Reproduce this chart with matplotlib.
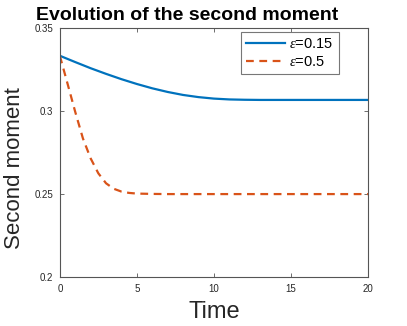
import numpy as np
import matplotlib
matplotlib.use("Agg")
import matplotlib.pyplot as plt

plt.rcParams['font.family'] = ['Liberation Sans', 'DejaVu Sans']
plt.rcParams['mathtext.fontset'] = 'custom'
plt.rcParams['mathtext.it'] = 'Liberation Serif:italic'

# data
t_blue = [0, 1, 2, 3, 4, 5, 6, 7, 8, 9, 10, 11, 12, 13, 14, 15, 16, 17, 18, 19, 20]
m_blue = [0.3333, 0.3295, 0.3258, 0.3224, 0.3192, 0.3163, 0.3137, 0.3115, 0.3097,
          0.3084, 0.3075, 0.3070, 0.3068, 0.3067, 0.3067, 0.3067, 0.3067, 0.3067,
          0.3067, 0.3067, 0.3067]
t_orange = [0, 0.5, 1, 1.5, 2, 2.5, 3, 3.5, 4, 4.5, 5, 6, 7, 8, 10, 12, 14, 16, 18, 20]
m_orange = [0.3333, 0.3165, 0.2995, 0.2835, 0.2715, 0.2625, 0.2565, 0.2532, 0.2515,
            0.2507, 0.2503, 0.2501, 0.2500, 0.2500, 0.2500, 0.2500, 0.2500, 0.2500,
            0.2500, 0.2500]
labels = [r'$\epsilon$=0.15', r'$\epsilon$=0.5']

fig = plt.figure(figsize=(4.07, 3.26), dpi=100)
ax = fig.add_axes([0.147, 0.150, 0.757, 0.764])

ax.plot(t_blue, m_blue, color='#0072BD', lw=1.6, label=labels[0])
ax.plot(t_orange, m_orange, color='#D95319', lw=1.6, ls=(0, (3.5, 2.5)), label=labels[1])

ax.set_xlim(0, 20)
ax.set_ylim(0.2, 0.35)
ax.set_xticks([0, 5, 10, 15, 20])
ax.set_yticks([0.2, 0.25, 0.3, 0.35])
ax.set_yticklabels(['0.2', '0.25', '0.3', '0.35'])
ax.tick_params(direction='in', top=True, right=True, labelsize=7, length=3,
               color='#555555', labelcolor='#262626', width=0.6, pad=5)
for s in ax.spines.values():
    s.set_color('#555555')
    s.set_linewidth(0.8)

ax.set_xlabel('Time', fontsize=17, color='#262626', labelpad=5)
ax.set_ylabel('Second moment', fontsize=16, color='#262626')
ax.yaxis.set_label_coords(-0.112, 0.437)

fig.text(187 / 407, 1 - 20 / 326, 'Evolution of the second moment', fontsize=14,
         fontweight='bold', ha='center', va='baseline')

leg = ax.legend(loc='upper right', bbox_to_anchor=(0.905, 0.985), fontsize=10.5,
                fancybox=False, framealpha=1, edgecolor='#777777', handlelength=2.7,
                handletextpad=0.3, borderpad=0.35, labelspacing=0.3, borderaxespad=0)
leg.get_frame().set_linewidth(0.8)

fig.savefig('out.png', dpi=100)
